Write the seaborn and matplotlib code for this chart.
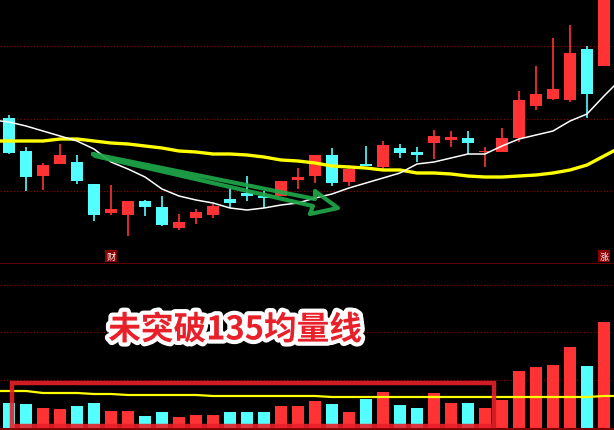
import numpy as np
import pandas as pd
import seaborn as sns
import matplotlib.pyplot as plt
import matplotlib.patheffects as pe
from matplotlib.patches import Rectangle

# candle data (arbitrary price units)
opens  = [146, 113, 88, 100, 102, 80, 51, 49, 63, 57, 36, 46, 49, 65, 71, 68, 68, 84,
          88, 109, 82, 100, 97, 116, 112, 121, 124, 126, 112, 112, 126, 158, 165, 164, 215, 198]
closes = [111, 87, 99, 109, 83, 49, 55, 63, 57, 39, 42, 52, 58, 61, 68, 66, 83, 87,
          109, 81, 95, 98, 119, 111, 109, 128, 127, 121, 113, 126, 164, 170, 175, 211, 170, 290]
highs  = [149, 117, 101, 120, 109, 80, 79, 63, 64, 68, 50, 55, 60, 76, 88, 73, 83, 96,
          109, 116, 99, 118, 123, 120, 117, 134, 133, 133, 117, 136, 173, 198, 226, 239, 218, 300]
lows   = [110, 73, 74, 100, 80, 43, 49, 28, 48, 38, 34, 40, 46, 56, 63, 56, 68, 75,
          81, 78, 78, 98, 93, 106, 102, 105, 117, 110, 97, 112, 122, 154, 164, 162, 146, 198]

# moving averages, one extra point at each edge
ma_short = [144, 142, 138, 133, 128, 123, 115, 102, 95, 87, 75, 68, 64, 61, 56, 54, 56, 59, 61,
            66, 70, 76, 81, 86, 91, 100, 102, 106, 110, 110, 118, 125, 129, 133, 143, 150, 168, 185]
ma_long = [123, 123, 123, 123, 125, 125, 123, 121, 120, 118, 116, 113, 112, 110, 110, 109, 107, 104, 103,
           101, 98, 97, 96, 94, 94, 91, 91, 90, 88, 87, 87, 88, 89, 91, 94, 99, 108, 117]

volume = [25, 24, 20, 19, 22, 25, 17, 17, 12, 16, 11, 13, 13, 16, 16, 16, 22, 22,
          27, 24, 16, 29, 36, 23, 20, 35, 25, 25, 20, 28, 57, 61, 63, 81, 62, 106]
vol_ma = [37, 37, 37, 35, 35, 35, 34, 34, 33, 33, 33, 33, 33, 32, 32, 32, 32, 32, 32,
          32, 31, 31, 31, 31, 31, 31, 31, 31, 31, 31, 31, 31, 31, 31, 31, 31, 32, 32]

RED = '#ff3333'
CYAN = '#54ffff'
GRID = '#a00000'

n = len(opens)
idx = np.arange(n)
idx_ext = np.arange(-1, n + 1)
up = [c >= o for o, c in zip(opens, closes)]
colors = [RED if u else CYAN for u in up]

sns.set_style('dark', {'axes.facecolor': 'black', 'figure.facecolor': 'black'})
plt.rcParams['font.family'] = ['Noto Sans CJK SC', 'DejaVu Sans']

fig = plt.figure(figsize=(6.14, 4.31), dpi=100)
H = 431
ax1 = fig.add_axes([0, 1 - 265 / H, 1, 265 / H])
ax2 = fig.add_axes([0, 0, 1, 166 / H])

xlim = (-9 / 17, (614 - 9) / 17)

# price panel
for y in [218, 145, 73]:
    ax1.axhline(y, color=GRID, ls=(0, (1, 2)), lw=0.8, zorder=0)
ax1.vlines(idx, lows, highs, colors=colors, lw=1.2, zorder=2)
bottoms = [min(o, c) for o, c in zip(opens, closes)]
heights = [max(abs(c - o), 1.2) for o, c in zip(opens, closes)]
ax1.bar(idx, heights, bottom=bottoms, width=0.76, color=colors, lw=0, zorder=3)
sns.lineplot(x=idx_ext, y=ma_long, ax=ax1, color='#ffff00', lw=2.4, zorder=4)
sns.lineplot(x=idx_ext, y=ma_short, ax=ax1, color='white', lw=1.1, zorder=4)

# green hand-drawn arrow
arrow_x = [4.94, 18.0, 18.0, 19.35, 17.7, 17.88, 5.06, 4.94]
arrow_y = [110, 65, 73, 56, 50, 58, 108, 110]
ax1.plot(arrow_x, arrow_y, color='#1fa84a', lw=3.0, alpha=0.92,
         solid_joinstyle='round', solid_capstyle='round', zorder=5)

ax1.axhline(0.5, color='#7a0000', lw=1.2)
ax1.set_xlim(*xlim)
ax1.set_ylim(0, 265)

for xi, s in [(6.0, '财'), (35.0, '涨')]:
    ax1.text(xi, 8, s, color='white', fontsize=6.5, ha='center', va='center',
             bbox=dict(boxstyle='square,pad=0.12', fc='#8b0000', ec='none'), zorder=6)

# volume panel
for y in [143, 96, 48]:
    ax2.axhline(y, color=GRID, ls=(0, (1, 2)), lw=0.8, zorder=0)
vol_df = pd.DataFrame({'idx': idx, 'vol': volume, 'dir': ['up' if u else 'down' for u in up]})
sns.barplot(data=vol_df, x='idx', y='vol', hue='dir', palette={'up': RED, 'down': CYAN},
            dodge=False, width=0.76, saturation=1, legend=False, linewidth=0, ax=ax2, zorder=2)
sns.lineplot(x=idx_ext, y=vol_ma, ax=ax2, color='#ffff00', lw=1.6, zorder=4)
ax2.axhline(-1, color='#7a0000', lw=1.5)
ax2.set_xlim(*xlim)
ax2.set_ylim(-2, 164)

for ax in [ax1, ax2]:
    ax.set_xticks([])
    ax.set_yticks([])
    ax.set_xlabel('')
    ax.set_ylabel('')
    for sp in ax.spines.values():
        sp.set_visible(False)

# highlight box and caption
fig.add_artist(Rectangle((12 / 614, 1 - 427 / H), 482 / 614, 43 / H, transform=fig.transFigure,
                         fill=False, ec='#e8202a', lw=3.2, alpha=0.9, zorder=10))
fig.text(235 / 614, 1 - 331 / H, '未突破135均量线', color='#e8202a', fontsize=23.5,
         fontweight='heavy', ha='center', va='center', zorder=11,
         path_effects=[pe.withStroke(linewidth=6, foreground='white')])

fig.savefig('out.png', dpi=100, facecolor='black')
